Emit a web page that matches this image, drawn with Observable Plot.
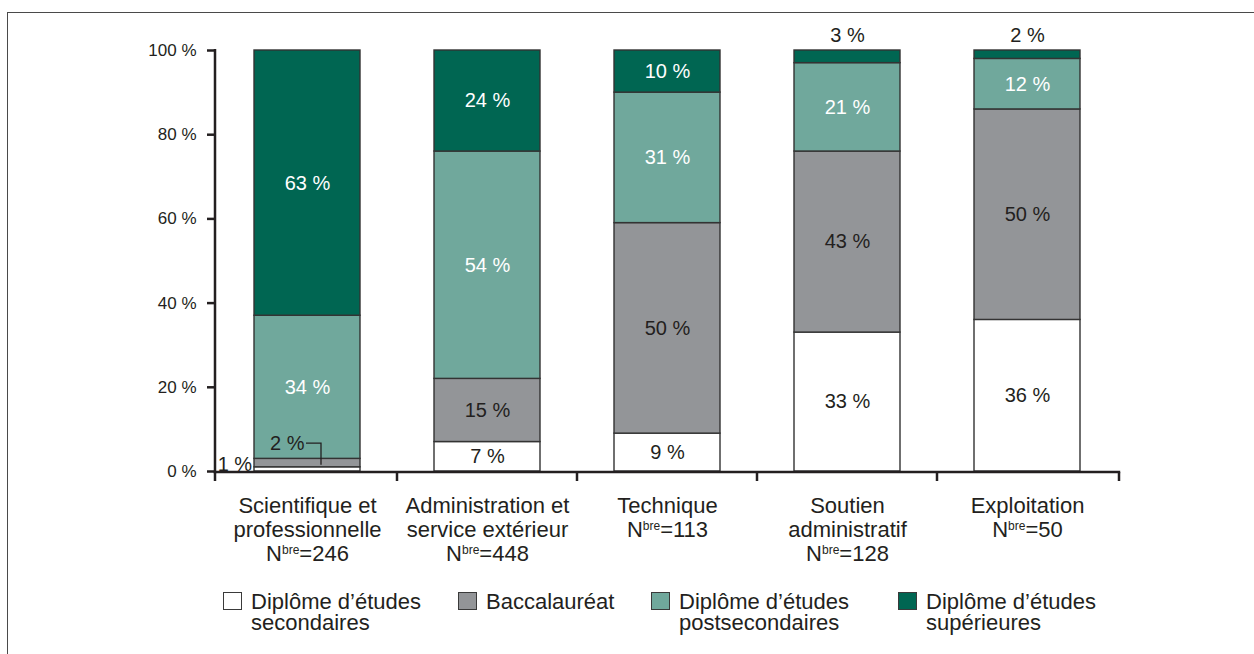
<!DOCTYPE html>
<html>
<head>
<meta charset="utf-8">
<script src="https://cdn.jsdelivr.net/npm/d3@7"></script>
<script src="https://cdn.jsdelivr.net/npm/@observablehq/plot@0.6"></script>
<style>
  html, body { margin: 0; padding: 0; background: #fff; }
  #wrap { position: relative; width: 1254px; height: 654px; overflow: hidden; }
  #frame { position: absolute; left: 7px; top: 12px; right: -4px; bottom: -4px;
           border-left: 1.6px solid #4a4a4a; border-top: 1.6px solid #4a4a4a; }
  #chart { position: absolute; left: 0; top: 0; }
  .legend-item { position: absolute; top: 591px; display: flex; align-items: flex-start;
                 font-family: "Liberation Sans", Arial, sans-serif; font-size: 22px; line-height: 21px; color: #231f20; }
  .legend-item .sw { width: 17px; height: 16px; border: 1.5px solid #3a3a3a; margin-top: 1px; margin-right: 9px; flex: none; }
  .legend-item .lbl { white-space: pre; }
</style>
</head>
<body>
<div id="wrap">
  <div id="frame"></div>
  <div id="chart"></div>
  <div id="legend"></div>
</div>
<script>
// ---- Data ----
const categories = ["Scientifique et professionnelle", "Administration et service extérieur", "Technique", "Soutien administratif", "Exploitation"];
const categoryLines = ["Scientifique et\nprofessionnelle", "Administration et\nservice extérieur", "Technique", "Soutien\nadministratif", "Exploitation"];
const counts = [246, 448, 113, 128, 50];
const seriesNames = ["Diplôme d’études secondaires", "Baccalauréat", "Diplôme d’études postsecondaires", "Diplôme d’études supérieures"];
const legendLabels = ["Diplôme d’études\nsecondaires", "Baccalauréat", "Diplôme d’études\npostsecondaires", "Diplôme d’études\nsupérieures"];
const secondaires = [1, 7, 9, 33, 36];
const baccalaureat = [2, 15, 50, 43, 50];
const postsecondaires = [34, 54, 31, 21, 12];
const superieures = [63, 24, 10, 3, 2];
const yTicks = [0, 20, 40, 60, 80, 100];

// ---- Styles ----
const colors = ["#ffffff", "#939598", "#70a89c", "#006652"];
const labelColors = ["#231f20", "#231f20", "#ffffff", "#ffffff"];
const ink = "#231f20";
const legendLeft = [223, 458, 651, 898];

// ---- Build table ----
const seriesValues = [secondaires, baccalaureat, postsecondaires, superieures];
const rows = [];
categories.forEach((c, i) => {
  let acc = 0;
  seriesValues.forEach((vals, s) => {
    const v = vals[i];
    rows.push({category: c, ci: i, series: seriesNames[s], s, value: v, y1: acc, y2: acc + v});
    acc += v;
  });
});

const marginLeft = 215, marginRight = 135, marginTop = 50, marginBottom = 183, width = 1254, height = 654;
const paddingInner = 0.41, paddingOuter = 0.205;
const step = (width - marginLeft - marginRight) / (categories.length - paddingInner + 2 * paddingOuter);
const bw = step * (1 - paddingInner);

const inside = rows.filter(d => d.value >= 5);
const above = rows.filter(d => d.value < 5 && d.s === 3);
const leftSide = rows.filter(d => d.value < 5 && d.s === 0);
const withLeader = rows.filter(d => d.value < 5 && d.s === 1);

const ns = "http://www.w3.org/2000/svg";
function mk(tag, attrs) {
  const e = document.createElementNS(ns, tag);
  for (const k in attrs) e.setAttribute(k, attrs[k]);
  return e;
}

// axis lines + boundary ticks, from the plot's scales
function axisDecor(index, scales, values, dims) {
  const {x, y} = scales;
  const g = mk("g", {stroke: ink, "stroke-width": 2.5, fill: "none"});
  const x0 = dims.marginLeft, x1 = dims.width - dims.marginRight;
  const st = x.step ? x.step() : step, b = x.bandwidth ? x.bandwidth() : bw;
  const yb = y(0) + 1;
  g.appendChild(mk("line", {x1: x0, x2: x0, y1: y(100) - 1, y2: yb + 1.2}));
  g.appendChild(mk("line", {x1: x0 - 1.2, x2: x1 + 1.2, y1: yb, y2: yb}));
  const bounds = [x0, ...categories.slice(1).map(c => x(c) - (st - b) / 2), x1];
  bounds.forEach(bx => g.appendChild(mk("line", {x1: bx, x2: bx, y1: yb, y2: yb + 9})));
  return g;
}

// leader line for small segment labels
function leaderLines(index, scales, values, dims) {
  const {x, y} = scales;
  const b = x.bandwidth ? x.bandwidth() : bw;
  const g = mk("g", {stroke: ink, "stroke-width": 1.3, fill: "none"});
  withLeader.forEach(d => {
    const cx = x(d.category) + b / 2;
    const yl = y(d.y2 + 3.6);
    const ye = y((d.y1 + d.y2) / 2 - 0.5);
    g.appendChild(mk("polyline", {points: `${cx - 1},${yl} ${cx + 14},${yl} ${cx + 14},${ye}`}));
  });
  return g;
}

const valueFont = "Liberation Sans, Arial, sans-serif";

const chart = Plot.plot({
  width, height, marginLeft, marginRight, marginTop, marginBottom,
  style: {fontFamily: valueFont, background: "transparent", overflow: "visible"},
  x: {domain: categories, paddingInner, paddingOuter, axis: null},
  y: {domain: [0, 100], axis: null},
  color: {domain: seriesNames, range: colors},
  marks: [
    Plot.barY(rows, {x: "category", y1: "y1", y2: "y2", fill: "series", stroke: "#333333", strokeWidth: 1.4}),
    axisDecor,
    Plot.axisY({ticks: yTicks, tickFormat: d => `${d} %`, tickSize: 8, tickPadding: 11, fontSize: 17,
                stroke: ink, strokeWidth: 2.5, color: ink, label: null}),
    Plot.text(inside, {x: "category", y: d => (d.y1 + d.y2) / 2, text: d => `${d.value} %`,
                       fill: d => labelColors[d.s], fontSize: 20}),
    Plot.text(above, {x: "category", y: "y2", text: d => `${d.value} %`, fill: ink, fontSize: 20, dy: -15}),
    Plot.text(leftSide, {x: "category", y: d => (d.y1 + d.y2) / 2, text: d => `${d.value} %`, fill: ink, fontSize: 20,
                         textAnchor: "end", dx: -bw / 2 - 2, dy: -5}),
    Plot.text(withLeader, {x: "category", y: d => d.y2 + 3.6, text: d => `${d.value} %`, fill: ink, fontSize: 20,
                           textAnchor: "end", dx: -3}),
    leaderLines,
    Plot.text(categories, {x: d => d, frameAnchor: "bottom", lineAnchor: "top", dy: 24, lineHeight: 1.1,
                           text: (d, i) => `${categoryLines[i]}\nNbre=${counts[i]}`, fontSize: 22, fill: ink})
  ]
});
document.getElementById("chart").appendChild(chart);

// superscript "bre"
chart.querySelectorAll("tspan, text").forEach(el => {
  if (el.childElementCount === 0 && /^Nbre=/.test(el.textContent)) {
    const rest = el.textContent.slice(4);
    el.textContent = "";
    el.appendChild(document.createTextNode("N"));
    const sup = mk("tspan", {dy: -7, "font-size": 12});
    sup.textContent = "bre";
    el.appendChild(sup);
    const tail = mk("tspan", {dy: 7});
    tail.textContent = rest;
    el.appendChild(tail);
  }
});

// legend
const legend = document.getElementById("legend");
seriesNames.forEach((name, i) => {
  const item = document.createElement("div");
  item.className = "legend-item";
  item.style.left = legendLeft[i] + "px";
  const sw = document.createElement("div");
  sw.className = "sw";
  sw.style.background = colors[i];
  const lbl = document.createElement("div");
  lbl.className = "lbl";
  lbl.textContent = legendLabels[i];
  item.appendChild(sw); item.appendChild(lbl);
  legend.appendChild(item);
});
</script>
</body>
</html>
